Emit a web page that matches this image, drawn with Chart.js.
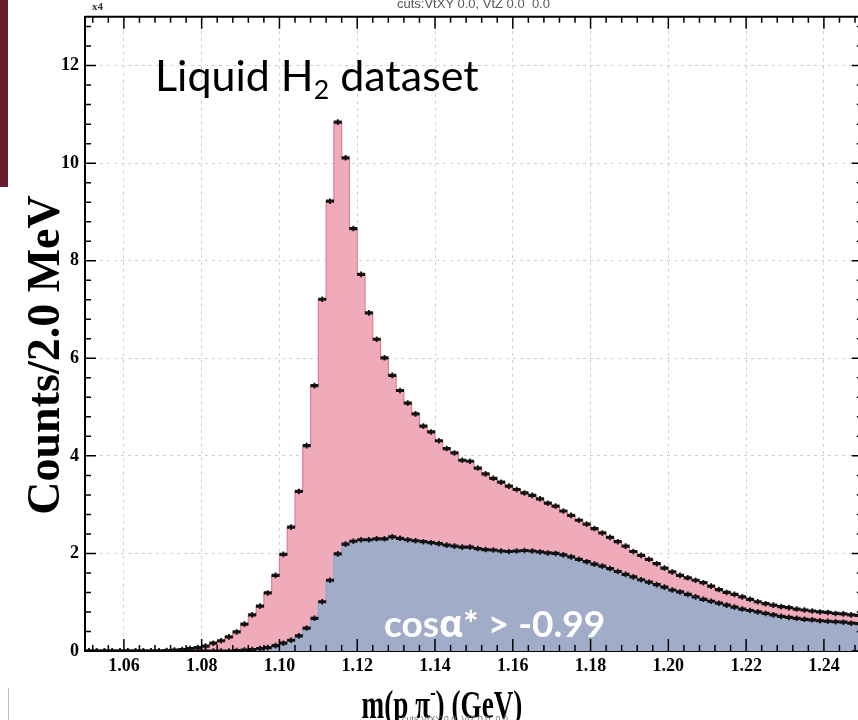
<!DOCTYPE html>
<html>
<head>
<meta charset="utf-8">
<script src="https://cdn.jsdelivr.net/npm/chart.js@4.4.1/dist/chart.umd.min.js"></script>
<style>
  html, body { margin: 0; padding: 0; background: #fff; overflow: hidden; width: 858px; height: 720px; }
  #wrap { position: relative; width: 870px; height: 720px; }
  #wrap canvas { position: absolute; left: 0; top: 0; }
  .txt { position: absolute; white-space: pre; line-height: 1; }
  #slideBar { position: absolute; left: 0; top: 0; width: 8px; height: 187px; background: #6b1b2e; }
  #slideLine { position: absolute; left: 8px; top: 688px; width: 1px; height: 32px; background: #bbb; }
  #title { left: 155px; top: 49px; font: 43px Lato, "Open Sans", sans-serif; color: #000; }
  #title sub { font-size: 0.62em; position: relative; top: 0.3em; vertical-align: baseline; }
  #cut { left: 384px; top: 597px; font: bold 37px Lato, "Open Sans", "DejaVu Sans", sans-serif; color: #fff; }
  #cut .gr { font-family: "Open Sans", "DejaVu Sans", sans-serif; }
  #cutsTop { left: 397px; top: -4px; font: 13px "Liberation Sans", sans-serif; color: #555; }
  #cutsBot { left: 402px; top: 714px; font: 9px "Liberation Sans", sans-serif; color: #777; }
  #mult { left: 92px; top: 0px; font: bold 11px "Liberation Serif", serif; color: #333; }
</style>
</head>
<body>
<div id="wrap">
  <canvas id="histo" width="870" height="720"></canvas>
  <div id="slideBar"></div>
  <div id="slideLine"></div>
  <div class="txt" id="mult">x4</div>
  <div class="txt" id="cutsTop">cuts:VtXY 0.0, VtZ 0.0  0.0</div>
  <div class="txt" id="cutsBot">cuts:VtXY 0.0, VtZ 0.0  0.0</div>
  <div class="txt" id="title">Liquid H<sub>2</sub> dataset</div>
  <div class="txt" id="cut">cos<span class="gr">α</span>* &gt; -0.99</div>
</div>
<script>
// histogram binning (GeV)
const binStart = 1.05;
const binWidth = 0.002;

const xTickLabels = [1.06, 1.08, 1.10, 1.12, 1.14, 1.16, 1.18, 1.20, 1.22, 1.24];
const yTickLabels = [0, 2, 4, 6, 8, 10, 12];

// all candidates (pink), counts x10^4 per 2 MeV
const allCounts = [
  0, 0, 0, 0, 0, 0, 0, 0, 0, 0,
  0.01, 0.02, 0.03, 0.05, 0.07, 0.10, 0.16, 0.21, 0.29, 0.39,
  0.55, 0.74, 0.92, 1.19, 1.55, 1.98, 2.54, 3.27, 4.21, 5.44,
  7.21, 9.22, 10.84, 10.11, 8.66, 7.72, 6.93, 6.39, 6.01, 5.65,
  5.34, 5.08, 4.86, 4.61, 4.49, 4.31, 4.15, 4.06, 3.91, 3.89,
  3.75, 3.63, 3.54, 3.46, 3.38, 3.31, 3.24, 3.19, 3.12, 3.03,
  2.97, 2.87, 2.78, 2.68, 2.60, 2.51, 2.42, 2.33, 2.24, 2.15,
  2.04, 1.96, 1.88, 1.79, 1.70, 1.62, 1.55, 1.50, 1.45, 1.40,
  1.33, 1.26, 1.20, 1.16, 1.11, 1.06, 1.01, 0.97, 0.94, 0.91,
  0.89, 0.86, 0.84, 0.82, 0.80, 0.79, 0.77, 0.76, 0.74, 0.73
];

// after cos(alpha*) > -0.99 cut (blue)
const cutCounts = [
  0, 0, 0, 0, 0, 0, 0, 0, 0, 0,
  0, 0, 0, 0, 0, 0, 0, 0, 0, 0.01,
  0.02, 0.03, 0.05, 0.07, 0.11, 0.16, 0.22, 0.31, 0.47, 0.67,
  1.01, 1.45, 1.99, 2.19, 2.25, 2.28, 2.28, 2.30, 2.30, 2.34,
  2.31, 2.28, 2.26, 2.24, 2.22, 2.20, 2.17, 2.15, 2.13, 2.13,
  2.10, 2.08, 2.07, 2.05, 2.04, 2.05, 2.06, 2.05, 2.03, 2.01,
  2.00, 1.97, 1.93, 1.88, 1.83, 1.78, 1.74, 1.69, 1.63, 1.57,
  1.52, 1.46, 1.41, 1.36, 1.31, 1.25, 1.21, 1.16, 1.11, 1.06,
  1.02, 0.98, 0.94, 0.90, 0.86, 0.83, 0.80, 0.77, 0.74, 0.71,
  0.69, 0.67, 0.65, 0.64, 0.62, 0.61, 0.60, 0.59, 0.57, 0.56
];

const lowEdges = allCounts.map((_, i) => binStart + i * binWidth);

// step outline: one point per lower edge, plus the last upper edge
function stepPoints(vals) {
  const pts = vals.map((v, i) => ({ x: lowEdges[i], y: v }));
  pts.push({ x: binStart + vals.length * binWidth, y: vals[vals.length - 1] });
  return pts;
}
function centerPoints(vals) {
  return vals.map((v, i) => ({ x: lowEdges[i] + binWidth / 2, y: v }));
}

const markerH = (vals) => ({
  data: centerPoints(vals), showLine: false, order: 0,
  pointStyle: 'line', pointRadius: 4, pointHoverRadius: 4,
  pointBorderWidth: 3.2, pointBorderColor: '#111'
});
const markerV = (vals) => ({
  data: centerPoints(vals), showLine: false, order: 0,
  pointStyle: 'line', pointRotation: 90, pointRadius: 2.8, pointHoverRadius: 2.8,
  pointBorderWidth: 1.8, pointBorderColor: '#111'
});

const serif = '"Liberation Serif", "Times New Roman", serif';

// ROOT style frame, inward ticks and axis titles
const rootFrame = {
  id: 'rootFrame',
  afterDraw(chart) {
    const { ctx, chartArea: a, scales: { x, y } } = chart;
    ctx.save();
    ctx.strokeStyle = '#000';
    ctx.lineWidth = 2;
    ctx.beginPath();
    ctx.moveTo(a.left, a.top); ctx.lineTo(a.right, a.top);
    ctx.lineTo(a.right, a.bottom);
    ctx.stroke();

    ctx.lineWidth = 1.5;
    ctx.beginPath();
    for (let k = 0; k <= 50; k++) {
      const v = 1.052 + k * 0.004;
      if (v > x.max + 1e-9) break;
      const major = Math.abs(v / 0.02 - Math.round(v / 0.02)) < 1e-6;
      const px = x.getPixelForValue(v);
      const len = major ? 12 : 6;
      ctx.moveTo(px, a.bottom); ctx.lineTo(px, a.bottom - len);
      ctx.moveTo(px, a.top); ctx.lineTo(px, a.top + len);
    }
    for (let k = 0; k <= 33; k++) {
      const v = k * 0.4;
      if (v > y.max + 1e-9) break;
      const major = k % 5 === 0;
      const py = y.getPixelForValue(v);
      const len = major ? 11 : 6;
      ctx.moveTo(a.left, py); ctx.lineTo(a.left + len, py);
      ctx.moveTo(a.right, py); ctx.lineTo(a.right - len, py);
    }
    ctx.stroke();

    // y title
    ctx.fillStyle = '#000';
    ctx.translate(47, 355);
    ctx.rotate(-Math.PI / 2);
    ctx.font = 'bold 46px ' + serif;
    ctx.textAlign = 'center';
    ctx.textBaseline = 'middle';
    ctx.fillText('Counts/2.0 MeV', 0, 0);
    ctx.setTransform(1, 0, 0, 1, 0, 0);

    // x title with superscript minus, condensed like the original
    const big = 'bold 40px ' + serif, small = 'bold 24px ' + serif;
    const p1 = 'm(p \u03c0', p2 = '-', p3 = ') (GeV)';
    ctx.font = big; const w1 = ctx.measureText(p1).width, w3 = ctx.measureText(p3).width;
    ctx.font = small; const w2 = ctx.measureText(p2).width;
    const sx = 0.68;
    ctx.translate(442, 718);
    ctx.scale(sx, 1);
    let tx = -(w1 + w2 + w3) / 2;
    ctx.textAlign = 'left';
    ctx.textBaseline = 'alphabetic';
    ctx.font = big; ctx.fillText(p1, tx, 0); tx += w1;
    ctx.font = small; ctx.fillText(p2, tx, -18); tx += w2;
    ctx.font = big; ctx.fillText(p3, tx, 0);
    ctx.restore();
  }
};

new Chart(document.getElementById('histo'), {
  type: 'line',
  data: {
    datasets: [
      markerH(allCounts), markerV(allCounts),
      markerH(cutCounts), markerV(cutCounts),
      {
        data: stepPoints(cutCounts), stepped: true, fill: 'origin', order: 5,
        backgroundColor: '#a1adc8', borderColor: '#7eaad6', borderWidth: 1.2, pointRadius: 0
      },
      {
        data: stepPoints(allCounts), stepped: true, fill: 'origin', order: 6,
        backgroundColor: '#efabb9', borderColor: '#e07d95', borderWidth: 1.2, pointRadius: 0
      }
    ]
  },
  options: {
    responsive: false,
    animation: false,
    events: [],
    layout: { padding: { left: 0, top: 16, right: 5, bottom: 0 } },
    plugins: { legend: { display: false }, tooltip: { enabled: false } },
    scales: {
      x: {
        type: 'linear', min: 1.05, max: 1.25, z: 1,
        afterBuildTicks: (s) => { s.ticks = xTickLabels.map(v => ({ value: v })); },
        afterFit: (s) => { s.height = 69; },
        ticks: {
          callback: (v) => v.toFixed(2), autoSkip: false, maxRotation: 0, padding: 5,
          color: '#000', font: { family: serif, weight: 'bold', size: 18 }
        },
        grid: { color: '#cfcfcf', lineWidth: 1, drawTicks: false },
        border: { color: '#000', width: 2, dash: [3, 4] }
      },
      y: {
        type: 'linear', min: 0, max: 13, z: 1,
        afterBuildTicks: (s) => { s.ticks = yTickLabels.map(v => ({ value: v })); },
        afterFit: (s) => { s.width = 85; },
        ticks: {
          autoSkip: false, padding: 6,
          color: '#000', font: { family: serif, weight: 'bold', size: 18 }
        },
        grid: { color: '#cfcfcf', lineWidth: 1, drawTicks: false },
        border: { color: '#000', width: 2, dash: [3, 4] }
      }
    }
  },
  plugins: [rootFrame]
});
</script>
</body>
</html>
